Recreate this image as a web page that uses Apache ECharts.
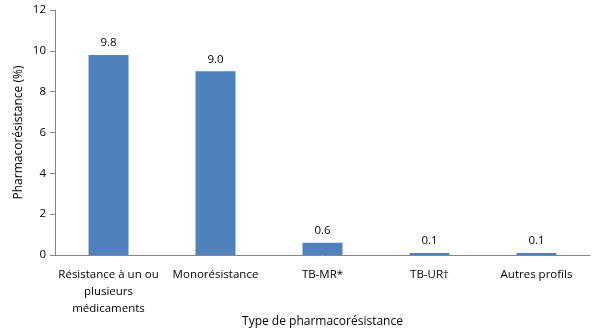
<!DOCTYPE html>
<html><head><meta charset="utf-8">
<script src="https://cdn.jsdelivr.net/npm/echarts@6/dist/echarts.min.js"></script>
<style>html,body{margin:0;padding:0;background:#fff}#c{width:600px;height:330px}</style>
</head><body><div id="c"></div>
<script>
const categories = ["Résistance à un ou\nplusieurs\nmédicaments", "Monorésistance", "TB-MR*", "TB-UR†", "Autres profils"];
const values = [9.8, 9.0, 0.6, 0.1, 0.1];
const labels = ["9.8", "9.0", "0.6", "0.1", "0.1"];
const yTicks = [0, 2, 4, 6, 8, 10, 12];
const font = "'Open Sans', 'Liberation Sans', sans-serif";
const chart = echarts.init(document.getElementById('c'), null, {renderer: 'canvas'});
chart.setOption({
  animation: false,
  grid: {left: 55, right: 10, top: 10, bottom: 75, containLabel: false, outerBoundsMode: 'none'},
  xAxis: {
    type: 'category', data: categories,
    name: 'Type de pharmacorésistance', nameLocation: 'middle', nameGap: 61, nameMoveOverlap: false,
    nameTextStyle: {fontFamily: font, fontSize: 12, color: '#000'},
    axisLine: {lineStyle: {color: '#868686'}},
    axisTick: {show: false},
    axisLabel: {interval: 0, fontFamily: font, fontSize: 11.5, color: '#000', lineHeight: 17, margin: 11}
  },
  yAxis: {
    type: 'value', min: 0, max: 12, interval: 2,
    name: 'Pharmacorésistance (%)', nameLocation: 'middle', nameGap: 30, nameMoveOverlap: false,
    nameTextStyle: {fontFamily: font, fontSize: 12, color: '#000'},
    axisLine: {show: true, lineStyle: {color: '#868686'}},
    axisTick: {show: true, length: 5, lineStyle: {color: '#868686'}},
    splitLine: {show: false},
    axisLabel: {fontFamily: font, fontSize: 11.5, color: '#000', margin: 9,
      formatter: v => yTicks.includes(v) ? String(v) : ''}
  },
  series: [{
    type: 'bar', data: values, barWidth: 40,
    itemStyle: {color: '#4f81bd'},
    label: {show: true, position: 'top', distance: 6, fontFamily: font, fontSize: 11.5, color: '#000',
      formatter: p => labels[p.dataIndex]}
  }]
});
</script></body></html>
